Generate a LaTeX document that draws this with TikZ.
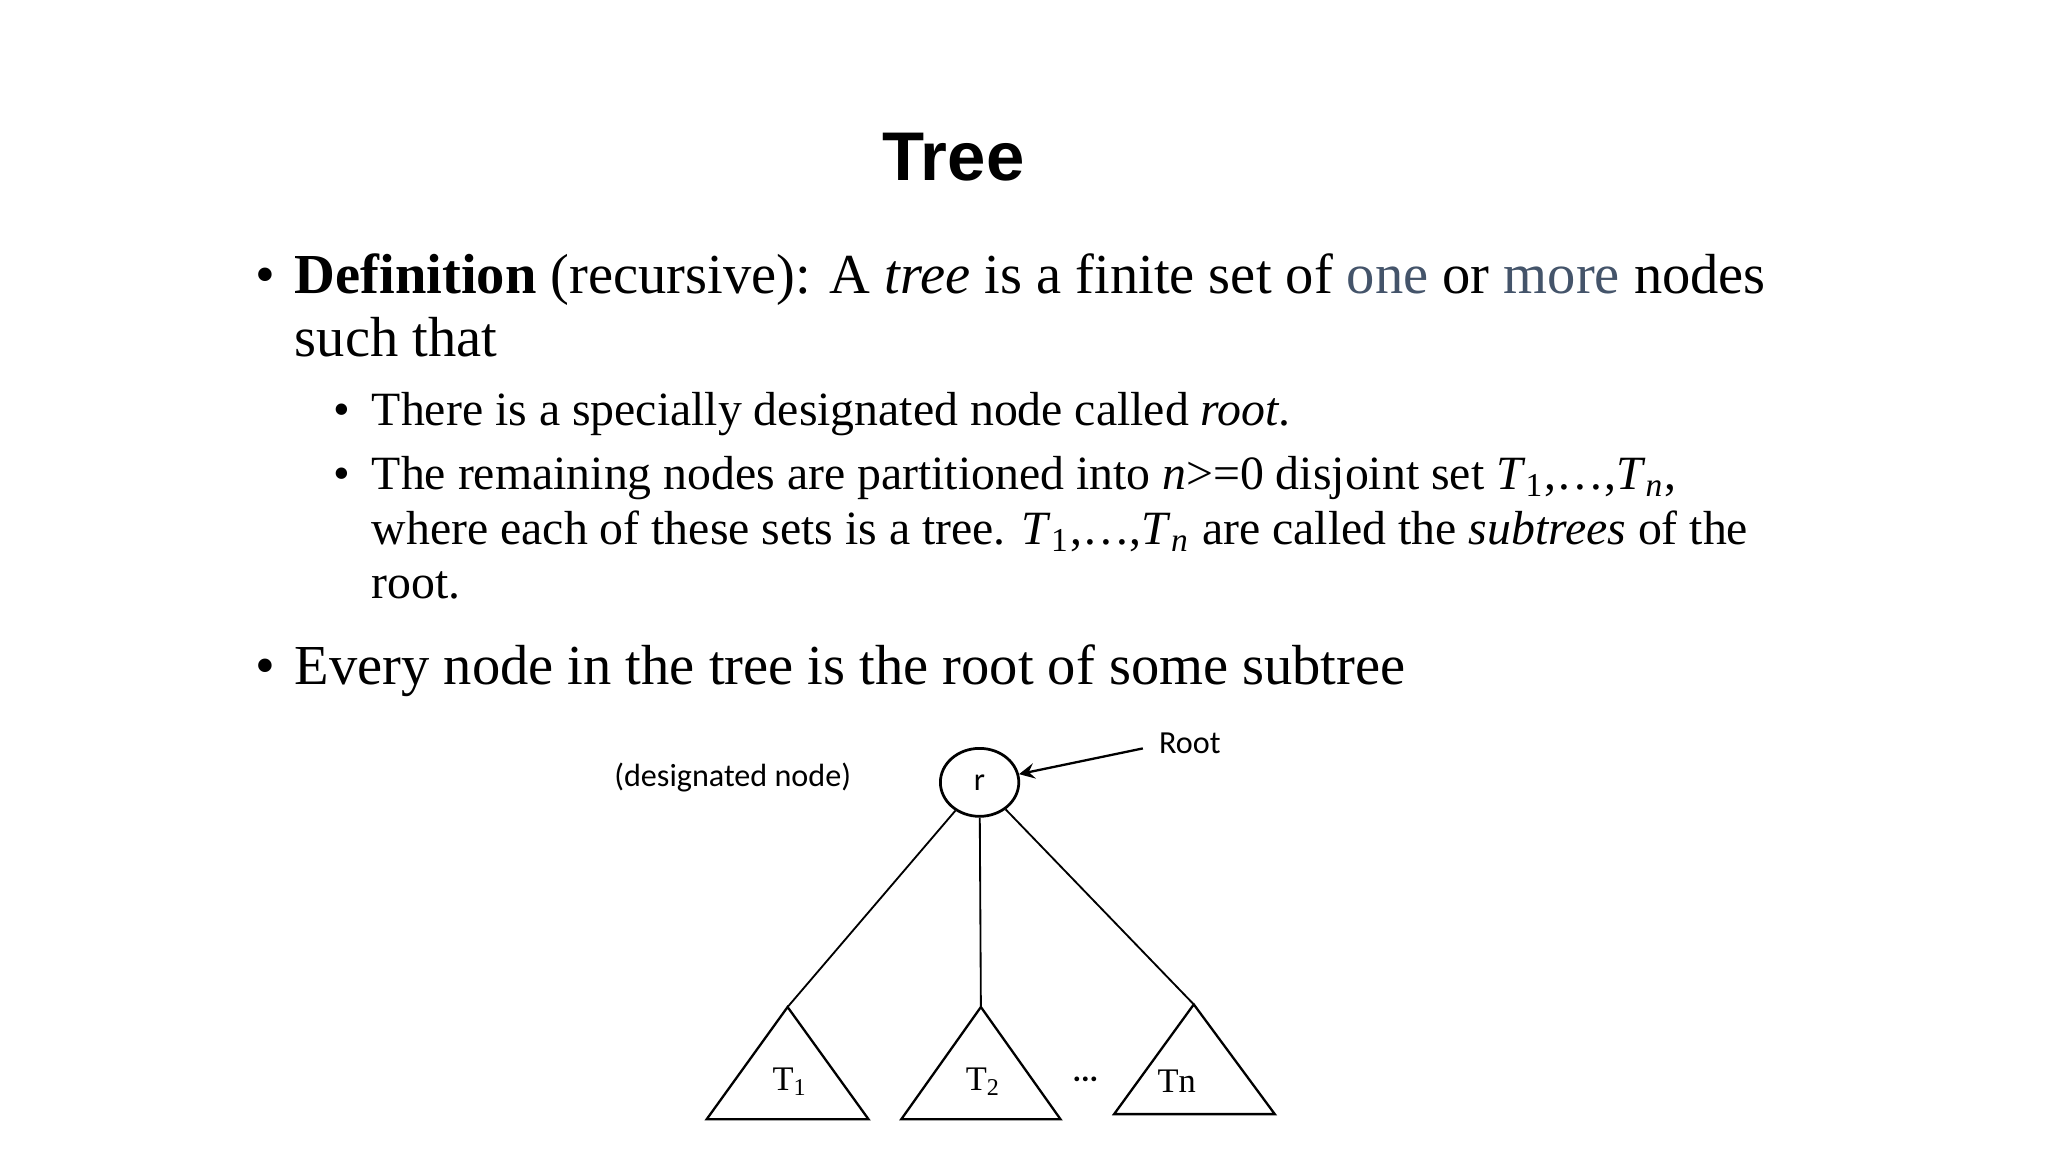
\documentclass[tikz,border=0pt]{standalone}
\usepackage{fontspec}
\usetikzlibrary{shapes.geometric}
\setmainfont{Liberation Serif}
\newfontfamily\hdfont{Liberation Sans}
\newfontfamily\calfont{Carlito}
\definecolor{slate}{HTML}{44546A}
\begin{document}
\begin{tikzpicture}[x=0.01cm,y=-0.01cm,
  big/.style={anchor=base west,inner sep=0,font=\fontsize{12.3}{14}\selectfont},
  sm/.style={anchor=base west,inner sep=0,font=\fontsize{10.4}{12}\selectfont},
  lab/.style={inner sep=0,font=\calfont\fontsize{7}{8}\selectfont},
  tri/.style={draw,line width=0.5pt}]
\useasboundingbox (0,0) rectangle (1568,882);
\node[anchor=base,inner sep=0,font=\hdfont\bfseries\fontsize{15}{17}\selectfont] (title) at (730,138) {Tree};
\node[big] (b1) at (195,225) {•};
\node[big] (l1) at (225,225) {\textbf{Definition} (recursive): A \textit{tree} is a finite set of \textcolor{slate}{one} or \textcolor{slate}{more} nodes};
\node[big] (l2) at (225,273) {such that};
\node[sm] (b2) at (255,326) {•};
\node[sm] (l3) at (284,326) {There is a specially designated node called \textit{root}.};
\node[sm] (b3) at (255,375) {•};
\node[sm] (l4) at (284,375) {The remaining nodes are partitioned into \textit{n}>=0 disjoint set \textit{T}\textsubscript{1},…,\textit{T}\textsubscript{\textit{n}},};
\node[sm] (l5) at (284,417) {where each of these sets is a tree. \textit{T}\textsubscript{1},…,\textit{T}\textsubscript{\textit{n}} are called the \textit{subtrees} of the};
\node[sm] (l6) at (284,458) {root.};
\node[big] (b4) at (195,524) {•};
\node[big] (l7) at (225,524) {Every node in the tree is the root of some subtree};
% diagram
\node[draw,ellipse,inner sep=0,line width=0.6pt,minimum width=0.6cm,minimum height=0.52cm,font=\calfont\fontsize{7}{8}\selectfont] (r) at (750,599) {r};
\node[lab] (dn) at (561,595) {(designated node)};
\node[lab] (root) at (911,569) {Root};
\coordinate (ra) at (875,573);
\draw[-stealth,line width=0.5pt] (ra) -- (r);
\coordinate (a1) at (603,771); \coordinate (a2) at (751,771); \coordinate (a3) at (914,769);
\draw[tri] (a1) -- (665,857) -- (541,857) -- cycle;
\draw[tri] (a2) -- (812,857) -- (690,857) -- cycle;
\draw[tri] (a3) -- (976,853) -- (853,853) -- cycle;
\draw[line width=0.4pt] (r) -- (a1);
\draw[line width=0.4pt] (r) -- (a2);
\draw[line width=0.4pt] (r) -- (a3);
\node[inner sep=0,font=\fontsize{7.5}{8}\selectfont] (t1) at (605,828) {T\textsubscript{1}};
\node[inner sep=0,font=\fontsize{7.5}{8}\selectfont] (t2) at (753,828) {T\textsubscript{2}};
\node[inner sep=0,font=\fontsize{7.5}{8}\selectfont] (tn) at (901,828) {Tn};
\node[lab,font=\calfont\bfseries\fontsize{7}{8}\selectfont] (dots) at (831,826) {...};
\end{tikzpicture}
\end{document}
